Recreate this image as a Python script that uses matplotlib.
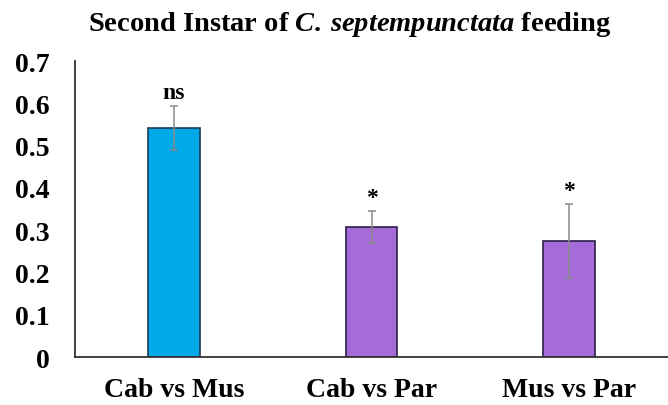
import matplotlib
matplotlib.use("Agg")
import matplotlib.pyplot as plt

# data
groups = ["Cab vs Mus", "Cab vs Par", "Mus vs Par"]
means = [0.542, 0.308, 0.275]
errors = [0.053, 0.037, 0.088]
signif = ["ns", "*", "*"]
colors = ["#00A9E8", "#A66BD9", "#A66BD9"]
edges = ["#1F3A5A", "#2E1F4A", "#2E1F4A"]
yticks = [0, 0.1, 0.2, 0.3, 0.4, 0.5, 0.6, 0.7]

plt.rcParams["font.family"] = ["Liberation Serif", "DejaVu Serif"]
plt.rcParams["font.weight"] = "bold"
plt.rcParams["mathtext.fontset"] = "custom"
plt.rcParams["mathtext.it"] = "Liberation Serif:italic:bold"
plt.rcParams["mathtext.rm"] = "Liberation Serif:bold"

fig = plt.figure(figsize=(6.68, 4.06), dpi=100)
ax = fig.add_axes([0.1123, 0.118, 0.8877, 0.729])

x = range(len(groups))
ax.bar(x, means, width=0.26, color=colors, edgecolor=edges, linewidth=1.2,
       zorder=2)
ax.errorbar(x, means, yerr=errors, fmt="none", ecolor="#8a8a8a",
            elinewidth=1.1, capsize=3, capthick=1.1, zorder=3)

for i, (m, e, s) in enumerate(zip(means, errors, signif)):
    ax.annotate(s, (i, m + e), xytext=(0, 2), textcoords="offset points",
                ha="center", va="bottom", fontsize=17, fontweight="bold")

ax.set_xlim(-0.5, 2.5)
ax.set_ylim(0, 0.7)
ax.set_yticks(yticks)
ax.set_yticklabels([f"{t:g}" for t in yticks])
ax.set_xticks(list(x))
ax.set_xticklabels(groups)
ax.tick_params(axis="both", length=0, labelsize=20)
ax.tick_params(axis="y", pad=18)
ax.tick_params(axis="x", pad=14)

for side in ["top", "right"]:
    ax.spines[side].set_visible(False)
for side in ["left", "bottom"]:
    ax.spines[side].set_color("#333333")
    ax.spines[side].set_linewidth(1.3)

fig.text(0.524, 0.94, "Second Instar of $\\mathit{C.\\:septempunctata}$ feeding",
         ha="center", va="center", fontsize=20.5, fontweight="bold")

fig.savefig("out.png", dpi=100)
